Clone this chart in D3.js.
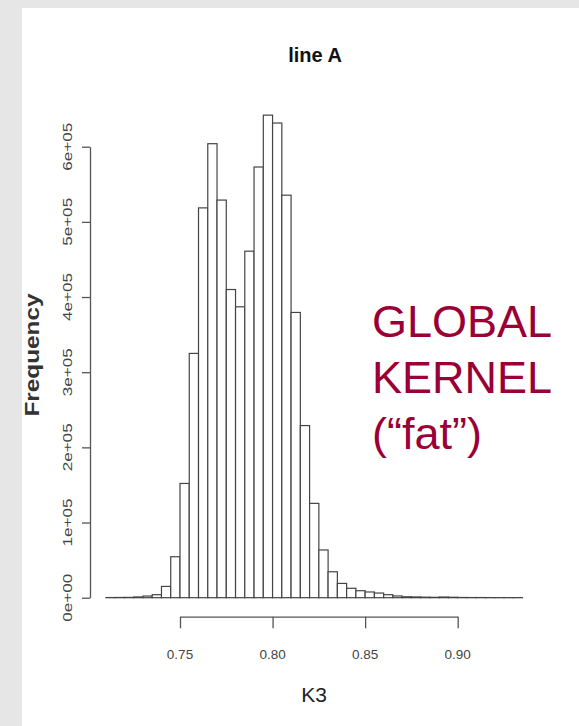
<!DOCTYPE html>
<html>
<head>
<meta charset="utf-8">
<script src="https://cdn.jsdelivr.net/npm/d3@7"></script>
<style>
  html, body { margin: 0; padding: 0; background: #e6e6e6; }
  svg { display: block; }
  text { font-family: "Liberation Sans", Arial, sans-serif; }
</style>
</head>
<body>
<svg id="chart" width="579" height="726"></svg>
<script>
// Histogram data: bins of width 0.005 starting at 0.710
var BIN_START = 0.710;
var BIN_WIDTH = 0.005;
var counts = [200, 300, 400, 1000, 2200, 4000, 15000, 54500, 152000, 325000,
              518600, 604000, 529000, 410000, 387000, 461000, 573000, 642000, 631500, 535500,
              379500, 229000, 125500, 63500, 34500, 19000, 12500, 9300, 7600, 6200,
              4000, 2300, 1200, 1000, 700, 500, 900, 600, 300, 200,
              200, 150, 100, 100, 100];

var xTicks = [0.75, 0.80, 0.85, 0.90];
var xTickLabels = ['0.75', '0.80', '0.85', '0.90'];
var yTicks = [0, 100000, 200000, 300000, 400000, 500000, 600000];
var yTickLabels = ['0e+00', '1e+05', '2e+05', '3e+05', '4e+05', '5e+05', '6e+05'];

var svg = d3.select('#chart');

// white panel on the grey slide background
svg.append('rect')
    .attr('x', 22).attr('y', 8)
    .attr('width', 579 - 22).attr('height', 726 - 8)
    .attr('fill', '#fff');

// scales
var x = d3.scaleLinear().domain([0.75, 0.90]).range([180, 457.7]);
var y = d3.scaleLinear().domain([0, 600000]).range([597.7, 146.7]);

var bins = counts.map(function(c, i) {
  return {x0: BIN_START + i * BIN_WIDTH, x1: BIN_START + (i + 1) * BIN_WIDTH, n: c};
});

// bars
svg.append('g').selectAll('rect')
    .data(bins)
  .enter().append('rect')
    .attr('x', function(d) { return x(d.x0); })
    .attr('y', function(d) { return y(d.n); })
    .attr('width', function(d) { return x(d.x1) - x(d.x0); })
    .attr('height', function(d) { return y(0) - y(d.n); })
    .attr('fill', '#fff')
    .attr('stroke', '#444')
    .attr('stroke-width', 1.2);

// y axis (R style, labels drawn separately)
var yAxis = svg.append('g')
    .attr('transform', 'translate(90,0)')
    .call(d3.axisLeft(y).tickValues(yTicks).tickSize(8).tickSizeOuter(0).tickFormat(''));
yAxis.selectAll('path, line').attr('stroke', '#555').attr('stroke-width', 1.3);

svg.append('g').selectAll('text')
    .data(yTicks)
  .enter().append('text')
    .attr('transform', function(d) { return 'translate(71.5,' + y(d) + ') rotate(-90)'; })
    .attr('text-anchor', 'middle')
    .attr('font-size', 12)
    .attr('textLength', 48)
    .attr('lengthAdjust', 'spacingAndGlyphs')
    .attr('fill', '#444')
    .text(function(d, i) { return yTickLabels[i]; });

// x axis
var xAxis = svg.append('g')
    .attr('transform', 'translate(0,616.7)')
    .call(d3.axisBottom(x).tickValues(xTicks).tickSize(11.6).tickSizeOuter(0).tickFormat(''));
xAxis.selectAll('path, line').attr('stroke', '#555').attr('stroke-width', 1.3);

svg.append('g').selectAll('text')
    .data(xTicks)
  .enter().append('text')
    .attr('x', function(d) { return x(d); })
    .attr('y', 659)
    .attr('text-anchor', 'middle')
    .attr('font-size', 13.5)
    .attr('fill', '#444')
    .text(function(d, i) { return xTickLabels[i]; });

// titles
svg.append('text')
    .attr('x', 315).attr('y', 61.5)
    .attr('text-anchor', 'middle')
    .attr('font-family', '"Liberation Sans Narrow", "Liberation Sans", sans-serif')
    .attr('font-weight', 'bold')
    .attr('font-size', 20)
    .attr('fill', '#111')
    .text('line A');

svg.append('text')
    .attr('x', 314).attr('y', 702)
    .attr('text-anchor', 'middle')
    .attr('font-size', 21)
    .attr('fill', '#222')
    .text('K3');

svg.append('text')
    .attr('transform', 'translate(39,355) rotate(-90)')
    .attr('text-anchor', 'middle')
    .attr('font-size', 21)
    .attr('font-weight', 'bold')
    .attr('textLength', 123)
    .attr('lengthAdjust', 'spacingAndGlyphs')
    .attr('fill', '#333')
    .text('Frequency');

// slide annotation
var note = ['GLOBAL', 'KERNEL', '(\u201cfat\u201d)'];
svg.append('g').selectAll('text')
    .data(note)
  .enter().append('text')
    .attr('x', 372)
    .attr('y', function(d, i) { return 337 + i * 56; })
    .attr('font-size', 45)
    .attr('fill', '#9a0036')
    .text(function(d) { return d; });
</script>
</body>
</html>
